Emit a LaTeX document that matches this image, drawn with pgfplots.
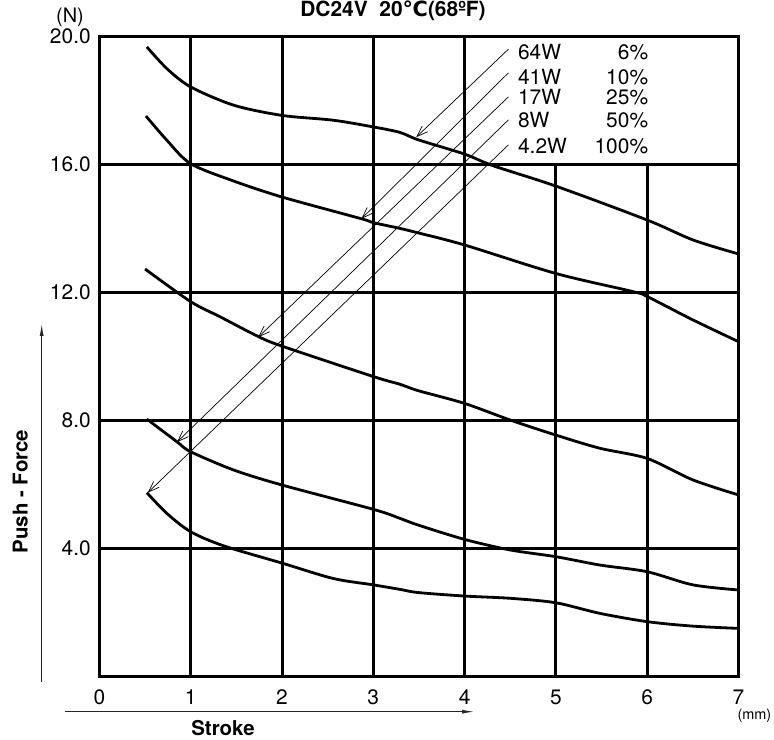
\documentclass[border=0pt]{standalone}
\usepackage{fontspec}
\setmainfont{TeX Gyre Heros}
\newfontfamily\djv{DejaVu Sans}
\usepackage{pgfplots}
\pgfplotsset{compat=1.18}
\usetikzlibrary{arrows.meta}
\begin{document}
\begin{tikzpicture}[x=1bp,y=1bp]
\begin{axis}[
  at={(0,0)}, anchor=south west,
  scale only axis, width=639.1bp, height=640bp,
  xmin=0, xmax=7, ymin=0, ymax=20,
  xtick={0,1,2,3,4,5,6,7},
  ytick={4,8,12,16,20},
  major tick length=0pt,
  ymajorgrids=true, xmajorgrids=false,
  major grid style={black, line width=3bp},
  axis line style={black, line width=3bp},
  /pgf/number format/assume math mode=true,
  yticklabel={\pgfmathprintnumber[fixed,fixed zerofill,precision=1]{\tick}},
  xticklabel={\pgfmathprintnumber[fixed,precision=0]{\tick}},
  yticklabel style={anchor=east, inner sep=0pt, xshift=-8.5bp, font=\fontsize{21}{24}\selectfont},
  xticklabel style={anchor=north, inner sep=0pt, yshift=-13bp, font=\fontsize{21}{24}\selectfont},
  clip=false,
]
% vertical grid lines (x=5 and x=6 stop at 16 N)
\addplot[black, line width=3bp] coordinates {(1,0) (1,20)};
\addplot[black, line width=3bp] coordinates {(2,0) (2,20)};
\addplot[black, line width=3bp] coordinates {(3,0) (3,20)};
\addplot[black, line width=3bp] coordinates {(4,0) (4,20)};
\addplot[black, line width=3bp] coordinates {(5,0) (5,16)};
\addplot[black, line width=3bp] coordinates {(6,0) (6,16)};
% 64W 6%
\addplot[black, line width=2.8bp, smooth, tension=0.5] coordinates {
(0.52,19.68) (0.74,19.0) (1,18.43) (1.47,17.86) (2,17.54) (2.56,17.39) (3,17.18) (3.29,17.01) (3.49,16.78) (4,16.33) (4.31,15.97) (5,15.33) (6,14.27) (6.5,13.65) (7,13.21)};
% 41W 10%
\addplot[black, line width=2.8bp, smooth, tension=0.5] coordinates {
(0.51,17.52) (0.74,16.76) (1,16.03) (1.47,15.49) (2,14.99) (2.87,14.31) (3,14.19) (3.29,14.01) (3.49,13.87) (4,13.49) (5,12.6) (5.85,12.03) (6,11.88) (6.5,11.15) (7,10.47)};
% 17W 25%
\addplot[black, line width=2.8bp, smooth, tension=0.5] coordinates {
(0.5,12.74) (1,11.72) (1.32,11.25) (1.74,10.63) (2,10.33) (3,9.38) (3.29,9.14) (3.49,8.94) (4,8.54) (4.5,8.02) (5,7.55) (5.48,7.14) (6,6.82) (6.5,6.15) (7,5.68)};
% 8W 50%
\addplot[black, line width=2.8bp, smooth, tension=0.5] coordinates {
(0.52,8.05) (0.85,7.34) (1,7.03) (1.47,6.46) (2,5.99) (3,5.23) (3.29,4.95) (3.49,4.74) (4,4.29) (4.5,3.96) (5,3.75) (5.48,3.49) (6,3.28) (6.5,2.87) (7,2.71)};
% 4.2W 100%
\addplot[black, line width=2.8bp, smooth, tension=0.5] coordinates {
(0.52,5.75) (0.74,5.1) (1,4.53) (1.36,4.09) (2,3.55) (2.56,3.07) (3,2.87) (3.29,2.73) (3.49,2.63) (4,2.52) (4.5,2.45) (5,2.31) (5.48,1.98) (6,1.72) (6.5,1.58) (7,1.51)};
% leader arrows
\addplot[black, line width=0.7bp, -{Straight Barb[length=11bp,width=8bp]}] coordinates {(4.48,19.61) (3.47,16.86)};
\addplot[black, line width=0.7bp, -{Straight Barb[length=11bp,width=8bp]}] coordinates {(4.48,18.87) (2.87,14.31)};
\addplot[black, line width=0.7bp, -{Straight Barb[length=11bp,width=8bp]}] coordinates {(4.48,18.12) (1.74,10.61)};
\addplot[black, line width=0.7bp, -{Straight Barb[length=11bp,width=8bp]}] coordinates {(4.48,17.40) (0.85,7.33)};
\addplot[black, line width=0.7bp, -{Straight Barb[length=11bp,width=8bp]}] coordinates {(4.48,16.62) (0.53,5.75)};
\end{axis}
% legend texts
\begin{scope}[every node/.style={inner sep=0pt, font=\fontsize{21}{24}\selectfont}]
\node[anchor=base west] at (418.5,617.5) {64W};
\node[anchor=base east] at (548.9,617.5) {6\%};
\node[anchor=base west] at (418.5,592.5) {41W};
\node[anchor=base east] at (548.9,592.5) {10\%};
\node[anchor=base west] at (418.5,572.2) {17W};
\node[anchor=base east] at (548.9,572.2) {25\%};
\node[anchor=base west] at (418.5,549.2) {8W};
\node[anchor=base east] at (548.9,549.2) {50\%};
\node[anchor=base west] at (418.5,523.2) {4.2W};
\node[anchor=base east] at (548.9,523.2) {100\%};
\node[font=\fontsize{20}{22}\selectfont] at (-29.4,659) {(N)};
\node[font=\fontsize{14.5}{16}\selectfont] at (655,-39) {(mm)};
\node[anchor=base, font=\fontsize{21}{24}\selectfont\bfseries] at (293.6,660) {DC24V\ \ 20{\djv\bfseries ℃}(68ºF)};
\node[font=\fontsize{20.5}{24}\selectfont\bfseries] at (123.6,-51) {Stroke};
\node[rotate=90, font=\fontsize{20.5}{24}\selectfont\bfseries] at (-79.1,185.2) {Push - Force};
\end{scope}
\draw[black!85, line width=1.2bp, -{Latex[length=13bp,width=4bp]}] (-34.4,-35) -- (375.6,-35);
\draw[black!85, line width=1.2bp, -{Latex[length=13bp,width=4bp]}] (-57.7,-5.3) -- (-57.7,353.7);
\pgfresetboundingbox
\useasboundingbox (-99.4,-63.3) rectangle (674.6,676.7);
\end{tikzpicture}
\end{document}
